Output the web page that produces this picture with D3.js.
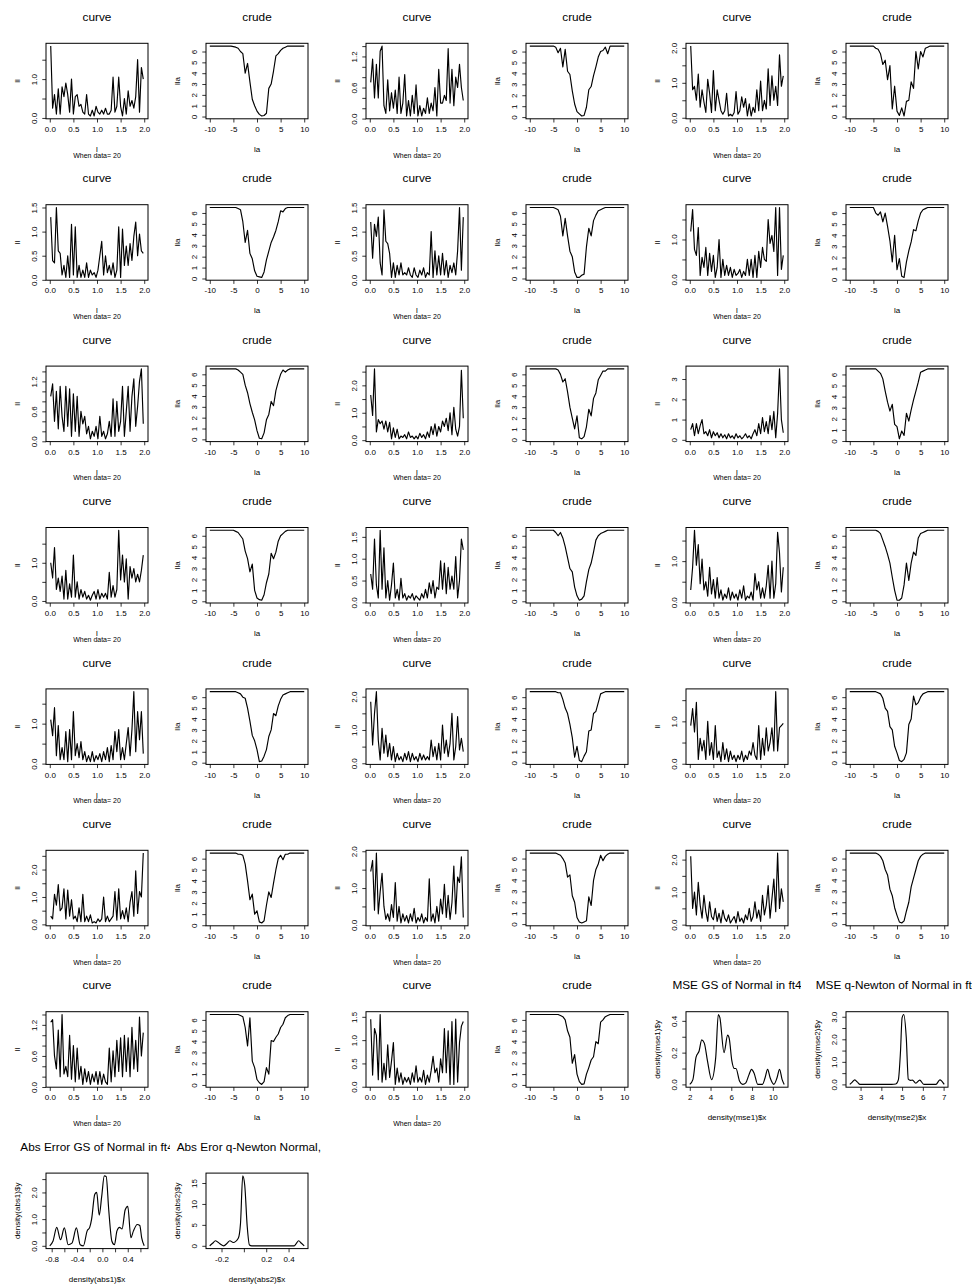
<!DOCTYPE html>
<html>
<head>
<meta charset="utf-8">
<script src="https://cdn.jsdelivr.net/npm/d3@7"></script>
<style>
body { margin: 0; background: #fff; }
text { font-family: "Liberation Sans", Arial, Helvetica, sans-serif; fill: #000; }
</style>
</head>
<body>
<svg id="chart" width="972" height="1287"></svg>
<script>
// ---- x grids ----
const curveX = [0.02,0.06,0.10,0.14,0.18,0.22,0.26,0.30,0.34,0.38,
                0.42,0.46,0.50,0.54,0.58,0.62,0.66,0.70,0.74,0.78,
                0.82,0.86,0.90,0.94,0.98,1.02,1.06,1.10,1.14,1.18,
                1.22,1.26,1.30,1.34,1.38,1.42,1.46,1.50,1.54,1.58,
                1.62,1.66,1.70,1.74,1.78,1.82,1.86,1.90,1.94,1.98];
const crudeX = [-10,-9.5,-9,-8.5,-8,-7.5,-7,-6.5,-6,-5.5,
                -5,-4.5,-4,-3.5,-3,-2.5,-2,-1.5,-1,-0.5,
                0,0.5,1,1.5,2,2.5,3,3.5,4,4.5,
                5,5.5,6,6.5,7,7.5,8,8.5,9,9.5,10];

// ---- "curve" panels (ll against x) ----
const c00 = [1.85,0.25,0.6,0.1,0.75,0.1,0.8,0.55,0.9,0.6, 0.15,1.0,0.1,0.55,0.6,0.3,0.35,0.15,0.1,0.6, 0.1,0.05,0.2,0.05,0.3,0.15,0.1,0.2,0.1,0.25, 0.1,0.1,0.2,1.05,0.15,0.3,1.05,0.3,0.05,0.5, 0.1,0.7,0.3,0.45,0.25,0.55,1.5,0.15,1.3,1.0];
const c02 = [0.7,1.15,0.4,1.05,0.4,1.3,1.4,0.25,0.1,0.75, 0.15,0.5,0.2,0.55,0.1,0.8,0.1,0.3,0.85,0.05, 0.35,0.05,0.45,0.1,0.65,0.05,0.25,0.05,0.2,0.1, 0.4,0.1,0.3,0.15,0.6,0.05,0.95,0.3,0.3,0.45, 0.35,1.35,0.3,0.95,0.25,0.8,0.6,1.05,0.6,0.35];
const c04 = [2.05,0.8,0.9,0.5,1.25,0.3,0.8,0.45,0.15,1.1, 0.7,0.15,1.35,0.2,0.8,0.5,0.2,0.1,0.2,0.7, 0.05,0.1,0.05,0.15,0.75,0.1,0.2,0.6,0.3,0.55, 0.05,0.4,0.05,0.3,0.15,0.8,0.2,1.05,0.2,0.5, 0.25,1.4,0.35,1.2,0.5,0.9,0.35,1.8,0.9,1.2];
const c10 = [1.3,0.4,0.35,1.5,0.6,0.55,0.1,0.3,0.05,0.5, 0.05,1.15,0.1,1.1,0.05,0.3,0.05,0.2,0.05,0.35, 0.05,0.2,0.1,0.15,0.05,0.2,0.5,0.8,0.1,0.5, 0.15,0.3,0.1,0.35,0.05,0.2,1.1,0.05,1.05,0.3, 0.7,0.3,0.75,0.4,0.9,1.2,0.5,0.95,0.6,0.55];
const c12 = [1.2,0.45,1.15,0.9,1.3,0.35,0.1,1.45,0.8,0.75, 0.55,0.05,0.35,0.05,0.3,0.1,0.35,0.1,0.15,0.1, 0.25,0.1,0.05,0.25,0.1,0.05,0.2,0.1,0.25,0.05, 0.15,0.1,1.0,0.05,0.6,0.1,0.5,0.1,0.55,0.1, 0.4,0.05,0.3,0.15,0.35,0.1,0.6,1.5,0.2,1.3];
const c14 = [1.2,1.75,0.75,0.6,1.3,0.1,0.55,0.3,0.8,0.1, 0.65,0.2,0.6,0.05,0.3,1.0,0.05,0.5,0.1,0.35, 0.1,0.3,0.05,0.25,0.1,0.15,0.25,0.05,0.2,0.1, 0.5,0.1,0.5,0.05,0.6,0.05,0.7,0.3,0.8,0.5, 0.45,1.5,0.9,1.1,0.7,1.8,0.1,1.8,0.25,0.6];
const c20 = [0.9,1.15,0.4,1.0,0.25,1.1,0.5,0.2,1.1,0.3, 1.05,0.1,0.95,0.2,0.9,0.1,0.6,0.35,0.5,0.15, 0.3,0.05,0.2,0.1,0.3,0.05,0.5,0.1,0.2,0.05, 0.15,0.4,0.1,0.85,0.1,0.8,0.2,0.4,1.1,0.1, 0.6,1.1,0.2,0.9,1.25,0.3,0.7,1.2,1.45,0.35];
const c22 = [1.65,0.9,2.6,0.3,0.75,0.6,0.7,0.4,0.7,0.3, 0.65,0.05,0.45,0.1,0.4,0.05,0.15,0.1,0.2,0.05, 0.3,0.1,0.15,0.05,0.15,0.05,0.25,0.1,0.2,0.05, 0.3,0.1,0.5,0.2,0.6,0.15,0.5,0.3,0.7,0.5, 0.8,0.35,1.0,0.2,1.2,0.4,0.15,0.5,2.55,0.8];
const c24 = [0.5,0.8,0.2,0.8,0.3,0.7,1.0,0.3,0.4,0.2, 0.5,0.1,0.4,0.2,0.35,0.1,0.3,0.1,0.25,0.05, 0.3,0.1,0.2,0.05,0.3,0.1,0.2,0.05,0.15,0.3, 0.1,0.2,0.05,0.3,0.5,0.2,0.8,0.3,1.1,0.4, 0.9,0.3,1.2,0.5,1.4,0.1,1.3,3.5,1.0,0.35];
const c30 = [1.0,0.6,1.4,0.3,0.6,0.25,0.65,0.05,0.8,0.05, 0.45,0.1,1.2,0.1,0.5,0.05,0.3,0.1,0.25,0.05, 0.15,0.02,0.15,0.25,0.05,0.3,0.05,0.2,0.1,0.2, 0.05,0.75,0.1,0.4,0.1,0.3,1.85,0.55,1.2,0.5, 1.1,0.05,0.9,0.6,0.85,0.5,0.7,0.5,0.8,1.2];
const c32 = [0.65,0.3,1.45,0.4,0.1,1.65,0.3,1.25,0.1,0.5, 0.05,0.4,0.9,0.1,0.3,0.05,0.55,0.1,0.2,0.05, 0.15,0.1,0.2,0.05,0.15,0.1,0.05,0.2,0.1,0.3, 0.1,0.45,0.2,0.5,0.1,0.35,0.3,0.95,0.3,0.9, 0.2,0.8,0.3,0.6,0.3,1.05,0.1,0.5,1.45,1.2];
const c34 = [0.3,0.85,1.75,0.9,1.4,0.45,1.05,0.3,0.5,0.15, 0.85,0.2,0.55,0.1,0.6,0.1,0.3,0.05,0.2,0.1, 0.35,0.05,0.25,0.1,0.2,0.05,0.3,0.1,0.4,0.05, 0.15,0.1,0.25,0.05,0.7,0.3,0.5,0.1,0.35,0.1, 0.4,0.9,0.1,1.0,0.1,0.45,1.7,1.2,0.25,0.85];
const c40 = [1.1,0.7,1.4,0.2,0.95,0.1,0.4,0.1,0.8,0.05, 0.85,0.1,1.3,0.2,0.5,0.15,0.55,0.1,0.3,0.05, 0.2,0.05,0.3,0.05,0.2,0.1,0.25,0.05,0.3,0.1, 0.4,0.05,0.45,0.1,0.8,0.3,0.85,0.1,0.4,0.1, 0.5,0.9,0.2,0.85,1.8,0.3,1.3,0.6,1.3,0.25];
const c42 = [1.85,0.55,1.5,2.15,0.7,0.1,1.05,0.3,0.85,0.2, 0.6,0.1,0.5,0.05,0.3,0.1,0.2,0.05,0.3,0.1, 0.35,0.05,0.3,0.1,0.2,0.05,0.3,0.1,0.25,0.1, 0.2,0.1,0.7,0.2,0.5,0.1,0.6,0.1,1.15,0.3, 0.7,0.2,0.6,1.5,0.1,0.5,1.4,0.4,0.75,0.35];
const c44 = [0.9,1.3,0.75,1.45,0.1,0.6,0.3,0.55,0.1,1.0, 0.2,0.5,0.1,0.9,0.15,0.3,0.05,0.5,0.1,0.35, 0.05,0.3,0.1,0.2,0.05,0.2,0.1,0.3,0.05,0.2, 0.1,0.3,0.2,0.5,0.2,0.1,0.9,0.1,0.6,0.2, 0.85,0.3,0.5,0.85,0.3,1.7,0.3,0.85,0.9,0.95];
const c50 = [0.3,0.2,1.1,0.7,1.45,0.5,0.6,1.3,0.2,1.25, 0.3,0.9,0.2,0.3,0.1,0.6,0.1,1.1,0.1,0.3, 0.1,0.35,0.05,0.1,0.05,0.2,0.1,0.2,1.0,0.1, 0.3,0.1,0.2,0.3,1.2,0.15,1.3,0.2,0.5,0.2, 0.6,0.1,0.8,1.2,0.3,1.95,0.4,1.2,1.0,2.6];
const c52 = [1.45,1.75,0.4,1.95,0.3,0.9,1.4,0.5,0.15,0.3, 0.1,0.55,0.2,1.15,0.1,0.5,0.05,0.3,0.1,0.25, 0.05,0.3,0.1,0.45,0.05,0.2,0.1,0.3,0.05,0.2, 0.1,1.25,0.1,0.3,0.05,0.5,0.1,0.7,0.3,1.1, 0.2,0.8,0.15,0.6,1.6,0.3,1.3,1.15,1.85,0.2];
const c54 = [2.1,0.5,1.0,0.3,1.3,0.6,0.2,0.9,0.4,0.1, 0.7,0.25,0.15,0.5,0.1,0.35,0.05,0.45,0.2,0.1, 0.3,0.05,0.15,0.25,0.05,0.4,0.1,0.2,0.05,0.3, 0.15,0.5,0.1,0.25,0.7,0.2,0.45,0.1,0.9,0.3, 0.6,1.2,0.2,0.8,1.4,0.4,2.2,0.5,1.1,0.7];
const c60 = [1.25,1.3,0.6,0.35,1.1,0.2,1.4,0.25,0.4,0.2, 1.0,0.15,0.8,0.1,0.75,0.15,0.4,0.05,0.35,0.1, 0.3,0.05,0.25,0.1,0.3,0.05,0.3,0.05,0.25,0.1, 0.05,0.75,0.1,0.7,0.2,0.9,0.3,0.95,0.2,1.0, 0.3,0.95,0.2,1.15,0.35,0.9,0.3,1.35,0.6,1.05];
const c62 = [1.45,0.25,1.25,1.1,0.15,1.55,0.1,0.5,0.15,0.9, 0.2,0.55,0.95,0.05,0.4,0.1,0.3,0.05,0.2,0.1, 0.2,0.05,0.3,0.1,0.45,0.1,0.2,0.1,0.35,0.05, 0.25,0.1,0.35,0.65,0.3,0.4,0.1,0.6,0.3,1.25, 0.3,1.2,0.05,1.4,0.05,1.45,0.1,0.95,1.3,1.4];

// ---- "crude" panels (lla against la) ----
const u01 = [6.5,6.5,6.5,6.5,6.5,6.5,6.5,6.5,6.5,6.5, 6.45,6.4,6.3,6.0,5.8,4.0,4.9,3.2,1.6,1.0, 0.5,0.2,0.05,0.1,0.3,2.6,3.0,4.2,5.6,5.8, 6.1,6.3,6.4,6.5,6.5,6.5,6.5,6.5,6.5,6.5,6.5];
const u03 = [6.5,6.5,6.5,6.5,6.5,6.5,6.5,6.5,6.5,6.5, 6.5,6.4,5.9,6.3,4.6,6.2,4.2,3.9,2.4,1.2, 0.5,0.3,0.1,0.15,0.9,2.5,2.8,3.8,4.6,5.5, 6.0,6.1,6.4,5.8,6.5,6.5,6.5,6.5,6.5,6.5,6.5];
const u05 = [6.5,6.5,6.5,6.5,6.5,6.5,6.5,6.5,6.5,6.5, 6.5,6.3,6.2,5.8,4.8,5.2,3.4,4.7,0.7,2.8, 0.5,0.1,0.8,0.05,1.4,1.5,3.2,2.6,6.0,4.4, 6.0,5.5,6.3,6.4,6.5,6.5,6.5,6.5,6.5,6.5,6.5];
const u11 = [6.5,6.5,6.5,6.5,6.5,6.5,6.5,6.5,6.5,6.5, 6.5,6.5,6.4,6.3,5.2,3.3,4.4,2.3,1.8,0.7, 0.2,0.15,0.1,0.6,1.7,2.5,3.3,3.8,4.4,5.2, 6.2,6.1,6.4,6.5,6.5,6.5,6.5,6.5,6.5,6.5,6.5];
const u13 = [6.5,6.5,6.5,6.5,6.5,6.5,6.5,6.5,6.5,6.5, 6.5,6.4,6.3,5.7,3.9,5.5,3.9,2.5,2.0,0.6, 0.1,0.1,0.3,0.4,2.9,4.6,3.9,5.3,5.8,6.2, 6.3,6.4,6.5,6.5,6.5,6.5,6.5,6.5,6.5,6.5,6.5];
const u15 = [6.5,6.5,6.5,6.5,6.5,6.5,6.5,6.5,6.5,6.5, 6.5,6.0,5.8,6.1,5.2,6.0,4.8,3.5,1.6,4.0, 0.9,1.9,0.3,0.2,1.6,2.6,3.4,4.5,4.4,5.3, 6.0,6.3,6.4,6.5,6.5,6.5,6.5,6.5,6.5,6.5,6.5];
const u21 = [6.5,6.5,6.5,6.5,6.5,6.5,6.5,6.5,6.5,6.5, 6.5,6.5,6.4,6.2,6.0,5.0,4.3,3.3,2.5,1.8, 0.8,0.1,0.05,0.6,1.8,2.3,3.5,3.1,4.5,5.3, 6.0,6.4,6.2,6.4,6.5,6.5,6.5,6.5,6.5,6.5,6.5];
const u23 = [6.5,6.5,6.5,6.5,6.5,6.5,6.5,6.5,6.5,6.5, 6.5,6.5,6.4,6.0,5.3,5.6,4.4,3.0,2.0,1.0, 2.2,0.2,0.1,0.3,1.2,2.8,2.2,3.8,4.3,5.5, 5.9,6.3,6.3,6.5,6.5,6.5,6.5,6.5,6.5,6.5,6.5];
const u25 = [6.5,6.5,6.5,6.5,6.5,6.5,6.5,6.5,6.5,6.5, 6.5,6.5,6.3,6.1,5.6,4.5,3.5,2.7,3.3,1.5, 1.3,0.2,0.9,0.5,2.5,1.8,2.8,3.7,4.5,5.3, 6.2,6.3,6.4,6.5,6.5,6.5,6.5,6.5,6.5,6.5,6.5];
const u31 = [6.5,6.5,6.5,6.5,6.5,6.5,6.5,6.5,6.5,6.5, 6.5,6.4,6.3,6.0,5.7,4.6,3.9,2.7,3.4,1.0, 0.3,0.15,0.1,0.6,1.7,2.5,4.4,3.9,4.5,5.5, 6.0,6.2,6.4,6.5,6.5,6.5,6.5,6.5,6.5,6.5,6.5];
const u33 = [6.5,6.5,6.5,6.5,6.5,6.5,6.5,6.5,6.5,6.5, 6.5,6.3,6.0,6.3,5.8,5.0,4.0,3.0,2.7,1.3, 0.5,0.1,0.2,0.5,1.8,2.9,3.5,4.5,5.6,6.0, 6.2,6.3,6.4,6.5,6.5,6.5,6.5,6.5,6.5,6.5,6.5];
const u35 = [6.5,6.5,6.5,6.5,6.5,6.5,6.5,6.5,6.5,6.5, 6.5,6.5,6.4,6.2,5.6,5.0,4.3,3.5,2.2,1.0, 0.1,0.1,0.3,1.5,3.5,1.9,3.5,4.5,4.2,5.8, 6.2,6.3,6.4,6.5,6.5,6.5,6.5,6.5,6.5,6.5,6.5];
const u41 = [6.5,6.5,6.5,6.5,6.5,6.5,6.5,6.5,6.5,6.5, 6.5,6.5,6.4,6.3,6.0,5.9,5.0,3.8,2.5,2.0, 1.2,0.1,0.15,0.6,1.2,2.4,3.0,4.5,4.3,5.2, 5.8,6.2,6.3,6.4,6.5,6.5,6.5,6.5,6.5,6.5,6.5];
const u43 = [6.5,6.5,6.5,6.5,6.5,6.5,6.5,6.5,6.5,6.5, 6.5,6.5,6.4,6.4,5.8,5.0,4.5,3.5,2.3,0.5, 1.5,0.2,0.1,0.6,1.0,2.9,3.0,4.5,4.7,5.5, 6.3,6.4,6.5,6.5,6.5,6.5,6.5,6.5,6.5,6.5,6.5];
const u45 = [6.5,6.5,6.5,6.5,6.5,6.5,6.5,6.5,6.5,6.5, 6.5,6.5,6.4,6.3,5.9,5.0,4.7,3.3,3.0,1.5, 0.9,0.2,0.1,0.3,0.9,3.5,4.0,6.1,5.3,5.5, 6.0,6.3,6.4,6.5,6.5,6.5,6.5,6.5,6.5,6.5,6.5];
const u51 = [6.5,6.5,6.5,6.5,6.5,6.5,6.5,6.5,6.5,6.5, 6.5,6.5,6.4,6.4,6.3,5.5,4.0,2.3,2.8,1.0, 1.3,0.3,0.2,0.4,1.8,3.0,2.5,3.8,5.0,6.0, 6.3,5.9,6.4,6.4,6.5,6.5,6.5,6.5,6.5,6.5,6.5];
const u53 = [6.5,6.5,6.5,6.5,6.5,6.5,6.5,6.5,6.5,6.5, 6.5,6.5,6.4,6.3,6.0,5.6,4.3,4.5,2.6,2.0, 0.6,0.2,0.1,0.2,0.3,2.5,1.7,4.0,5.0,5.5, 6.3,5.8,6.2,6.4,6.5,6.5,6.5,6.5,6.5,6.5,6.5];
const u55 = [6.5,6.5,6.5,6.5,6.5,6.5,6.5,6.5,6.5,6.5, 6.5,6.5,6.4,6.2,5.8,5.0,4.5,3.2,2.6,1.5, 0.8,0.2,0.1,0.3,1.2,2.0,3.4,4.2,5.0,5.8, 6.2,6.4,6.5,6.5,6.5,6.5,6.5,6.5,6.5,6.5,6.5];
const u61 = [6.5,6.5,6.5,6.5,6.5,6.5,6.5,6.5,6.5,6.5, 6.5,6.5,6.5,6.4,6.3,5.3,3.6,6.2,2.2,1.6, 0.5,0.2,0.05,0.3,1.6,1.0,4.1,4.0,4.4,4.7, 5.3,5.6,6.2,6.4,6.5,6.5,6.5,6.5,6.5,6.5,6.5];
const u63 = [6.5,6.5,6.5,6.5,6.5,6.5,6.5,6.5,6.5,6.5, 6.5,6.5,6.5,6.4,6.3,6.0,5.0,4.4,2.0,2.8, 1.0,0.3,0.05,0.1,1.0,1.6,2.3,2.6,4.0,3.8, 5.8,6.0,6.3,6.4,6.5,6.5,6.5,6.5,6.5,6.5,6.5];

// ---- density panels ----
const mse1X = [2.0,2.3,2.6,2.9,3.15,3.4,3.7,4.1,4.5,4.75, 4.9,5.3,5.65,5.8,6.05,6.3,6.45,6.8,7.1,7.4, 7.7,7.95,8.2,8.55,9.0,9.25,9.5,9.75,10.1,10.4, 10.65,10.9,11.1];
const mse1Y = [0.0,0.03,0.17,0.21,0.28,0.26,0.15,0.03,0.17,0.44, 0.42,0.2,0.31,0.29,0.15,0.1,0.1,0.02,0.0,0.01, 0.06,0.095,0.07,0.0,0.0,0.04,0.095,0.04,0.0,0.04, 0.095,0.03,0.0];
const mse2X = [2.48,2.6,2.72,2.85,2.97,3.5,4.0,4.5,4.7,4.82, 4.92,5.0,5.08,5.2,5.3,5.4,5.5,5.66,5.85,6.05, 6.4,6.63,6.82,7.03];
const mse2Y = [0.0,0.1,0.2,0.1,0.0,0.0,0.0,0.0,0.02,0.2, 1.4,2.95,3.1,2.1,0.23,0.18,0.19,0.05,0.19,0.0, 0.0,0.0,0.2,0.0];
const abs1X = [-0.83,-0.78,-0.72,-0.66,-0.6,-0.54,-0.48,-0.41,-0.35,-0.3, -0.24,-0.2,-0.17,-0.12,-0.09,-0.05,-0.01,0.03,0.06,0.1, 0.15,0.19,0.23,0.27,0.31,0.36,0.4,0.45,0.49,0.55, 0.59,0.62,0.66];
const abs1Y = [0.0,0.17,0.69,0.23,0.67,0.04,0.1,0.67,0.04,0.0, 0.56,0.69,1.0,1.93,2.0,1.15,1.87,2.62,2.6,1.35, 0.17,0.04,0.56,0.69,0.63,1.35,1.48,0.3,0.56,0.8, 0.76,0.3,0.0];
const abs2X = [-0.305,-0.28,-0.254,-0.215,-0.18,-0.15,-0.125,-0.095,-0.05,-0.03, -0.01,0.008,0.03,0.05,0.07,0.2,0.35,0.45,0.47,0.49, 0.515,0.54];
const abs2Y = [0.0,0.6,1.2,0.5,0.0,0.6,1.2,0.8,1.8,5.4, 16.7,14.4,4.6,0.2,0.0,0.0,0.0,0.0,0.6,1.2, 0.6,0.0];

// ---- ticks and labels ----
const curveXTicks = [0, 0.5, 1, 1.5, 2];
const curveXLabels = ["0.0", "0.5", "1.0", "1.5", "2.0"];
const crudeXTicks = [-10, -5, 0, 5, 10];
const crudeXLabels = ["-10", "-5", "0", "5", "10"];
const crudeYTicks = [0, 1, 2, 3, 4, 5, 6];
const crudeYLabels = ["0", "1", "2", "3", "4", "5", "6"];
const yTicksA = [0, 0.5, 1, 1.5];
const yLabelsA = ["0.0", "", "1.0", ""];
const yLabelsB = ["0.0", "0.5", "1.0", "1.5"];
const yTicksC = [0, 0.2, 0.4, 0.6, 0.8, 1.0, 1.2, 1.4];
const yLabelsC = ["0.0", "", "", "0.6", "", "", "1.2", ""];
const yTicksD = [0, 0.5, 1, 1.5, 2];
const yLabelsD = ["0.0", "", "1.0", "", "2.0"];
const yTicksE = [0, 0.5, 1, 1.5, 2, 2.5];
const yLabelsE = ["0.0", "", "1.0", "", "2.0", ""];
const yTicksF = [0, 1, 2, 3];
const yLabelsF = ["0", "1", "2", "3"];
const mse1XTicks = [2, 4, 6, 8, 10];
const mse1XLabels = ["2", "4", "6", "8", "10"];
const mse1YTicks = [0, 0.1, 0.2, 0.3, 0.4];
const mse1YLabels = ["0.0", "", "0.2", "", "0.4"];
const mse2XTicks = [3, 4, 5, 6, 7];
const mse2XLabels = ["3", "4", "5", "6", "7"];
const mse2YTicks = [0, 0.5, 1, 1.5, 2, 2.5, 3];
const mse2YLabels = ["0.0", "", "1.0", "", "2.0", "", "3.0"];
const abs1XTicks = [-0.8, -0.6, -0.4, -0.2, 0, 0.2, 0.4, 0.6];
const abs1XLabels = ["-0.8", "", "-0.4", "", "0.0", "", "0.4", ""];
const abs2XTicks = [-0.2, 0, 0.2, 0.4];
const abs2XLabels = ["-0.2", "", "0.2", "0.4"];
const abs2YTicks = [0, 5, 10, 15];
const abs2YLabels = ["0", "5", "10", "15"];

function curve(r, c, ys, yT, yL) {
  return {r, c, xs: curveX, ys, xlim: [0, 2], xT: curveXTicks, xL: curveXLabels, yT, yL,
          title: "curve", xlab: "l", ylab: "ll", sub: "When data= 20"};
}
function crude(r, c, ys) {
  return {r, c, xs: crudeX, ys, xlim: [-10, 10], xT: crudeXTicks, xL: crudeXLabels,
          yT: crudeYTicks, yL: crudeYLabels, title: "crude", xlab: "la", ylab: "lla"};
}

const panels = [
  curve(0,0,c00,yTicksA,yLabelsA), crude(0,1,u01), curve(0,2,c02,yTicksC,yLabelsC), crude(0,3,u03), curve(0,4,c04,yTicksD,yLabelsD), crude(0,5,u05),
  curve(1,0,c10,yTicksA,yLabelsB), crude(1,1,u11), curve(1,2,c12,yTicksA,yLabelsB), crude(1,3,u13), curve(1,4,c14,yTicksA,yLabelsA), crude(1,5,u15),
  curve(2,0,c20,yTicksC,yLabelsC), crude(2,1,u21), curve(2,2,c22,yTicksE,yLabelsE), crude(2,3,u23), curve(2,4,c24,yTicksF,yLabelsF), crude(2,5,u25),
  curve(3,0,c30,yTicksA,yLabelsA), crude(3,1,u31), curve(3,2,c32,yTicksA,yLabelsB), crude(3,3,u33), curve(3,4,c34,yTicksA,yLabelsA), crude(3,5,u35),
  curve(4,0,c40,yTicksA,yLabelsA), crude(4,1,u41), curve(4,2,c42,yTicksD,yLabelsD), crude(4,3,u43), curve(4,4,c44,yTicksA,yLabelsA), crude(4,5,u45),
  curve(5,0,c50,yTicksE,yLabelsE), crude(5,1,u51), curve(5,2,c52,yTicksD,yLabelsD), crude(5,3,u53), curve(5,4,c54,yTicksD,yLabelsD), crude(5,5,u55),
  curve(6,0,c60,yTicksC,yLabelsC), crude(6,1,u61), curve(6,2,c62,yTicksA,yLabelsB), crude(6,3,u63),
  {r:6, c:4, xs: mse1X, ys: mse1Y, xT: mse1XTicks, xL: mse1XLabels, yT: mse1YTicks, yL: mse1YLabels, smooth: true,
   title: "MSE GS of Normal in ft4", xlab: "density(mse1)$x", ylab: "density(mse1)$y"},
  {r:6, c:5, xs: mse2X, ys: mse2Y, xT: mse2XTicks, xL: mse2XLabels, yT: mse2YTicks, yL: mse2YLabels, smooth: true,
   title: "MSE q-Newton of Normal in ft4", xlab: "density(mse2)$x", ylab: "density(mse2)$y"},
  {r:7, c:0, xs: abs1X, ys: abs1Y, xT: abs1XTicks, xL: abs1XLabels, yT: yTicksE, yL: yLabelsE, smooth: true,
   title: "Abs Error GS of Normal in ft4", xlab: "density(abs1)$x", ylab: "density(abs1)$y"},
  {r:7, c:1, xs: abs2X, ys: abs2Y, xT: abs2XTicks, xL: abs2XLabels, yT: abs2YTicks, yL: abs2YLabels, smooth: true,
   title: "Abs Eror q-Newton Normal, ft4", xlab: "density(abs2)$x", ylab: "density(abs2)$y"}
];

// layout
const colPitch = 160, rowPitch = 161.4;
const titleClipRight = [170, 321, 481, 641, 801, 972];
const svg = d3.select("#chart");
svg.append("rect").attr("width", 972).attr("height", 1287).attr("fill", "#fff");
const defs = svg.append("defs");

function pad(ext) {
  const d = (ext[1] - ext[0]) * 0.04;
  return [ext[0] - d, ext[1] + d];
}

panels.forEach(function(p, i) {
  const cx = 97 + colPitch * p.c;
  const top = rowPitch * p.r;
  const L = cx - 51, R = cx + 51, T = top + 43.3, B = top + 118.8;

  const x = d3.scaleLinear().domain(pad(p.xlim || d3.extent(p.xs))).range([L, R]);
  const y = d3.scaleLinear().domain(pad(d3.extent(p.ys))).range([B, T]);

  const g = svg.append("g");

  // title, clipped to the figure region like R does
  defs.append("clipPath").attr("id", "tclip" + i)
    .append("rect")
    .attr("x", colPitch * p.c).attr("y", top)
    .attr("width", titleClipRight[p.c] - colPitch * p.c).attr("height", 40);
  g.append("text")
    .attr("x", cx).attr("y", top + 21)
    .attr("text-anchor", "middle")
    .attr("font-size", 11.8)
    .attr("clip-path", "url(#tclip" + i + ")")
    .text(p.title);

  // data line
  const line = d3.line()
    .x(function(d) { return x(d[0]); })
    .y(function(d) { return y(d[1]); })
    .curve(p.smooth ? d3.curveMonotoneX : d3.curveLinear);
  g.append("path")
    .datum(d3.zip(p.xs, p.ys))
    .attr("fill", "none")
    .attr("stroke", "#000")
    .attr("stroke-width", 1.15)
    .attr("stroke-linejoin", "round")
    .attr("d", line);

  // box
  g.append("rect")
    .attr("x", L).attr("y", T).attr("width", R - L).attr("height", B - T)
    .attr("fill", "none").attr("stroke", "#000").attr("stroke-width", 1);

  // x axis
  const gx = g.append("g")
    .attr("transform", "translate(0," + B + ")")
    .call(d3.axisBottom(x).tickValues(p.xT)
      .tickFormat(function(d, j) { return p.xL[j]; })
      .tickSize(3.7).tickSizeOuter(0));
  gx.select(".domain").remove();
  gx.selectAll("line").attr("stroke-width", 0.8);
  gx.selectAll("text")
    .attr("font-size", 8)
    .attr("y", 13.2).attr("dy", 0);
  gx.attr("font-family", null).attr("font-size", null);

  // y axis, labels parallel to the axis
  const gy = g.append("g")
    .attr("transform", "translate(" + L + ",0)")
    .call(d3.axisLeft(y).tickValues(p.yT)
      .tickFormat(function(d, j) { return p.yL[j]; })
      .tickSize(3.7).tickSizeOuter(0));
  gy.select(".domain").remove();
  gy.selectAll("line").attr("stroke-width", 0.8);
  gy.selectAll("text")
    .attr("font-size", 8)
    .attr("transform", "rotate(-90)")
    .attr("text-anchor", "middle")
    .attr("x", 0).attr("y", -9).attr("dy", 0);
  gy.attr("font-family", null).attr("font-size", null);

  // axis titles
  g.append("text")
    .attr("x", cx).attr("y", top + 152)
    .attr("text-anchor", "middle").attr("font-size", 8)
    .text(p.xlab);
  g.append("text")
    .attr("transform", "translate(" + (L - 26) + "," + ((T + B) / 2) + ") rotate(-90)")
    .attr("text-anchor", "middle").attr("font-size", 8)
    .text(p.ylab);
  if (p.sub) {
    g.append("text")
      .attr("x", cx).attr("y", top + 157.5)
      .attr("text-anchor", "middle").attr("font-size", 7)
      .text(p.sub);
  }
});
</script>
</body>
</html>
